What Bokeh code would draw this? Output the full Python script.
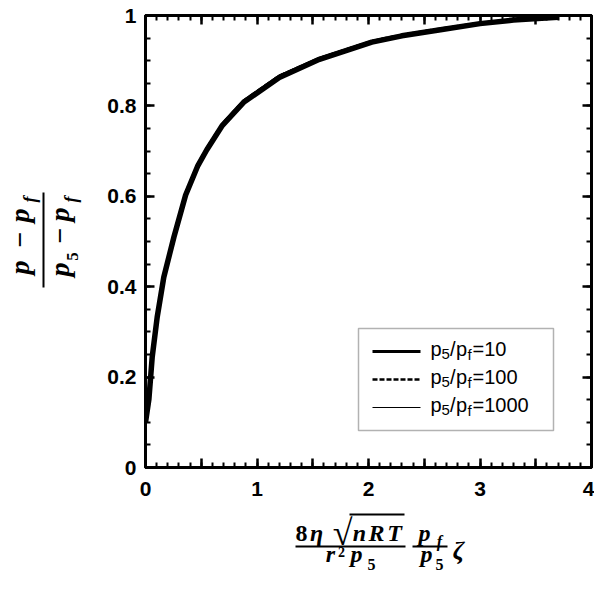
import math
from bokeh.plotting import figure
from bokeh.layouts import row, column
from bokeh.models import (Range1d, LinearAxis, FixedTicker, CustomJSTickFormatter,
                          Label, Arrow, BoxAnnotation)
from bokeh.embed import file_html
from bokeh.resources import INLINE

# ---------------- data ----------------
x_vals = [0.0, 0.03, 0.06, 0.105, 0.164, 0.255, 0.36, 0.47, 0.55, 0.69,
          0.88, 1.2, 1.56, 2.03, 2.3, 2.66, 3.0, 3.3, 3.7]
y_ratio10 = [0.10, 0.15, 0.244, 0.333, 0.421, 0.51, 0.603, 0.668, 0.703, 0.757,
             0.808, 0.863, 0.903, 0.941, 0.955, 0.969, 0.982, 0.990, 0.996]
y_ratio100 = [0.10, 0.152, 0.247, 0.336, 0.424, 0.513, 0.606, 0.671, 0.706, 0.760,
              0.811, 0.866, 0.905, 0.943, 0.957, 0.971, 0.983, 0.991, 0.997]
y_ratio1000 = [0.10, 0.154, 0.249, 0.338, 0.426, 0.515, 0.608, 0.673, 0.708, 0.762,
               0.813, 0.868, 0.907, 0.944, 0.958, 0.972, 0.984, 0.992, 0.997]
series_names = ["10", "100", "1000"]

x_major_ticks = [0, 0.5, 1, 1.5, 2, 2.5, 3, 3.5, 4]
x_minor_ticks = [i / 10 for i in range(41)]
y_major_ticks = [0, 0.2, 0.4, 0.6, 0.8, 1.0]
y_minor_ticks = [i / 20 for i in range(21)]
y_tick_labels = {0: "0", 0.2: "0.2", 0.4: "0.4", 0.6: "0.6", 0.8: "0.8", 1.0: "1"}

# ---------------- layout geometry (page pixels) ----------------
PW, PH = 594, 597
LW = 92                 # width of the left label strip
MW, MH = PW - LW, 510   # main plot
BH = PH - MH            # bottom label strip
FRAME_L, FRAME_R, FRAME_T, FRAME_B = 145, 591, 15, 467

p = figure(width=MW, height=MH, x_range=Range1d(0, 4), y_range=Range1d(0, 1),
           output_backend="svg", toolbar_location=None,
           min_border_left=FRAME_L - LW, min_border_right=PW - FRAME_R,
           min_border_top=FRAME_T, min_border_bottom=MH - FRAME_B)
p.grid.visible = False
p.outline_line_color = "black"
p.outline_line_width = 3
p.background_fill_color = "white"
p.border_fill_color = "white"


def dx(X):
    return (X - FRAME_L) / (FRAME_R - FRAME_L) * 4.0


def dy(Y):
    return (FRAME_B - Y) / (FRAME_B - FRAME_T) * 1.0


def style_axis(ax, labels=True):
    ax.axis_line_width = 3
    ax.axis_line_color = "black"
    ax.major_tick_in = 9
    ax.major_tick_out = 0
    ax.minor_tick_in = 5
    ax.minor_tick_out = 0
    ax.major_tick_line_width = 2.5
    ax.minor_tick_line_width = 2
    ax.major_tick_line_color = "black"
    ax.minor_tick_line_color = "black"
    ax.major_label_text_font = "Liberation Sans"
    ax.major_label_text_font_style = "bold"
    ax.major_label_text_font_size = "21px"
    ax.major_label_text_color = "black"
    if not labels:
        ax.formatter = CustomJSTickFormatter(code="return ''")
        ax.major_label_standoff = 0


xb = p.xaxis[0]
xb.ticker = FixedTicker(ticks=x_major_ticks, minor_ticks=x_minor_ticks)
xb.formatter = CustomJSTickFormatter(
    code="return (Math.abs(tick - Math.round(tick)) < 1e-9) ? tick.toFixed(0) : ''")
style_axis(xb)
xb.major_label_standoff = 14

yl = p.yaxis[0]
yl.ticker = FixedTicker(ticks=y_major_ticks, minor_ticks=y_minor_ticks)
yl.major_label_overrides = y_tick_labels
style_axis(yl)
yl.major_label_standoff = 9

xt = LinearAxis(ticker=FixedTicker(ticks=x_major_ticks, minor_ticks=x_minor_ticks))
style_axis(xt, labels=False)
p.add_layout(xt, "above")
yr = LinearAxis(ticker=FixedTicker(ticks=y_major_ticks, minor_ticks=y_minor_ticks))
style_axis(yr, labels=False)
p.add_layout(yr, "right")

# ---------------- curves ----------------
line_styles = [dict(line_width=5.5, line_dash="solid"),
               dict(line_width=3, line_dash="6 3"),
               dict(line_width=1.5, line_dash="solid")]
for ys, st in zip([y_ratio10, y_ratio100, y_ratio1000], line_styles):
    p.line(x_vals, ys, line_color="black", **st)


# ---------------- helpers ----------------
# X, Y give the text baseline position in page pixels; the label is anchored
# at its vertical middle, which lies about 0.34 em above the baseline.
def lab(fig, conv, text, X, Y, size, font="Liberation Serif", style="bold italic",
        align="center", angle=0.0):
    fx, fy = conv
    shift = 0.34 * size
    if angle == 0.0:
        ax_, ay_ = X, Y - shift
    else:  # rotated 90 deg counter-clockwise: glyph "up" points to the left
        ax_, ay_ = X - shift, Y
    fig.add_layout(Label(x=fx(ax_), y=fy(ay_), text=text, text_font=font,
                         text_font_size=f"{size}px", text_font_style=style,
                         text_align=align, text_baseline="middle",
                         angle=angle, text_color="black"))


def rule(fig, conv, X0, Y0, X1, Y1, w=2.0, dash="solid"):
    fx, fy = conv
    fig.add_layout(Arrow(x_start=fx(X0), y_start=fy(Y0), x_end=fx(X1), y_end=fy(Y1),
                         start=None, end=None, line_width=w, line_color="black",
                         line_dash=dash))


MAIN = (dx, dy)

# ---------------- legend ----------------
p.add_layout(BoxAnnotation(left=dx(358), right=dx(553), top=dy(328), bottom=dy(430),
                           fill_color="white", fill_alpha=1.0,
                           line_color="black", line_width=1.5))
legend_rows = [351, 379, 407]
legend_line = [dict(w=3, dash="solid"), dict(w=2.4, dash="5 2"), dict(w=1.2, dash="solid")]
for name, Yr, st in zip(series_names, legend_rows, legend_line):
    rule(p, MAIN, 372, Yr, 420, Yr, w=st["w"], dash=st["dash"])
    base = Yr + 4
    lab(p, MAIN, "p", 430, base, 20, font="Liberation Sans", style="normal", align="left")
    lab(p, MAIN, "5", 441, base + 4, 15, font="Liberation Sans", style="normal", align="left")
    lab(p, MAIN, "/", 449.5, base, 20, font="Liberation Sans", style="normal", align="left")
    lab(p, MAIN, "p", 455.5, base, 20, font="Liberation Sans", style="normal", align="left")
    lab(p, MAIN, "f", 467, base + 4, 15, font="Liberation Sans", style="normal", align="left")
    lab(p, MAIN, "=" + name, 472, base, 20, font="Liberation Sans", style="normal", align="left")


# ---------------- label strips (data y = PH - page Y) ----------------
def strip(w, h, xr, yr, borders):
    bl, br, bt, bb = borders
    f = figure(width=w, height=h, x_range=Range1d(*xr), y_range=Range1d(*yr),
               output_backend="svg", toolbar_location=None,
               x_axis_type=None, y_axis_type=None,
               min_border_left=bl, min_border_right=br,
               min_border_top=bt, min_border_bottom=bb)
    f.grid.visible = False
    f.outline_line_color = None
    f.background_fill_color = "white"
    f.border_fill_color = "white"
    return f


page = (lambda X: X, lambda Y: PH - Y)

# y-axis label (rotated fraction); frame spans page rows FRAME_T..FRAME_B
left = strip(LW, PH, (0, LW), (PH - FRAME_B, PH - FRAME_T), (0, 0, FRAME_T, PH - FRAME_B))
A = math.pi / 2
lab(left, page, "p", 29, 267, 28, angle=A)
lab(left, page, "\u2212", 29, 239, 28, style="bold", angle=A)
lab(left, page, "p", 29, 215, 28, angle=A)
lab(left, page, "f", 36, 199, 18, angle=A)
rule(left, page, 43, 192, 43, 287, w=2)
lab(left, page, "p", 69, 269, 28, angle=A)
lab(left, page, "5", 78, 256, 17, style="bold", angle=A)
lab(left, page, "\u2212", 69, 235, 28, style="bold", angle=A)
lab(left, page, "p", 69, 214, 28, angle=A)
lab(left, page, "f", 77, 199, 18, angle=A)

# x-axis label; frame spans page columns FRAME_L..FRAME_R
bottom = strip(MW, BH, (FRAME_L, FRAME_R), (0, BH), (FRAME_L - LW, PW - FRAME_R, 0, 0))
lab(bottom, page, "8", 301, 541, 24, style="bold")
lab(bottom, page, "\u03b7", 316, 541, 24)
lab(bottom, page, "\u221a", 352, 545, 36, style="bold", align="right")
rule(bottom, page, 349, 514, 404, 514, w=2)
lab(bottom, page, "n", 359, 541, 24)
lab(bottom, page, "R", 376, 541, 24)
lab(bottom, page, "T", 394, 541, 24)
rule(bottom, page, 295, 546, 405, 546, w=2)
lab(bottom, page, "r", 330, 562, 24)
lab(bottom, page, "2", 341, 556, 14, style="bold")
lab(bottom, page, "p", 356, 562, 24)
lab(bottom, page, "5", 371, 569, 16, style="bold")
lab(bottom, page, "p", 424, 541, 24)
lab(bottom, page, "f", 439, 546, 16)
rule(bottom, page, 412, 546, 447, 546, w=2)
lab(bottom, page, "p", 426, 562, 24)
lab(bottom, page, "5", 439, 569, 16, style="bold")
lab(bottom, page, "\u03b6", 458, 559, 26)

layout = row(left, column(p, bottom))
open("out.html", "w").write(file_html(layout, INLINE))
